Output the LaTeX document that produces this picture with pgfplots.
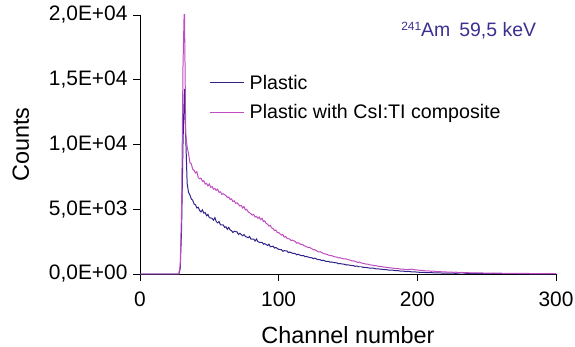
\documentclass[border=0pt]{standalone}
\usepackage{pgfplots}
\pgfplotsset{compat=1.18}
\usepackage{pgfplotstable}
\usepackage{fontspec}
\setmainfont{Liberation Sans}

\definecolor{plasticblue}{HTML}{2E2389}
\definecolor{csimag}{HTML}{C04CC0}
\definecolor{notecol}{HTML}{3B2F90}

% Channel spectra: channel, counts
\pgfplotstableread{
ch cnt
0 0
28 0
29 400
30 3500
31 10000
32 14300
33 10500
34 7000
35 6300
36 6100
37 5800
38 5700
39 5400
40 5350
41 5100
42 5150
43 4900
44 4800
45 4950
46 4700
47 4750
48 4500
49 4600
50 4350
52 4300
53 4150
54 4350
55 4050
56 3950
57 4050
58 3800
60 3800
61 3600
62 3650
63 3450
64 3600
65 3400
66 3350
67 3200
68 3300
70 3250
71 3050
72 3150
74 2950
75 3050
76 2900
78 2800
79 2900
80 2700
82 2700
83 2550
84 2700
85 2500
86 2450
88 2450
89 2300
90 2350
92 2200
93 2300
94 2100
96 2150
97 2000
98 2050
100 1900
102 1880
103 1750
104 1800
106 1780
107 1650
108 1700
110 1600
112 1580
113 1480
114 1530
116 1420
118 1430
119 1330
120 1360
122 1280
124 1250
125 1180
126 1230
128 1120
130 1100
131 1030
132 1070
134 980
136 980
137 910
138 930
140 880
142 860
143 790
144 810
146 770
148 740
149 690
150 710
152 660
154 650
155 590
156 620
158 560
160 560
161 500
162 520
164 490
166 450
168 460
170 400
172 390
174 370
176 340
178 330
180 290
182 300
184 260
186 260
188 220
190 220
192 190
194 200
196 160
198 170
200 140
202 130
204 120
206 115
208 100
210 105
212 90
216 80
220 70
224 65
228 55
232 90
236 45
240 45
245 35
250 30
255 40
260 25
265 20
270 25
275 15
280 20
285 10
290 15
295 10
300 10
}\plastic

\pgfplotstableread{
ch cnt
0 0
28 0
29 700
30 5000
31 16000
32 21000
33 10800
34 9800
35 9300
36 8600
37 8500
38 8100
39 8000
40 7800
41 7900
42 7450
43 7350
44 7400
45 7150
46 7200
47 6950
48 7000
49 6800
50 6950
51 6700
52 6750
53 6550
54 6600
55 6450
56 6550
57 6300
58 6350
59 6150
60 6200
62 6050
63 5900
64 5950
65 5750
66 5800
67 5600
68 5650
69 5450
70 5500
72 5250
73 5300
74 5100
75 5200
76 4950
77 5000
78 4800
80 4650
81 4550
82 4600
83 4400
84 4450
85 4300
86 4400
87 4200
88 4300
89 4050
90 4100
91 3900
92 3850
93 3700
94 3750
95 3550
96 3500
97 3350
98 3400
99 3200
100 3200
102 3000
103 3050
104 2850
105 2900
106 2750
108 2700
109 2580
110 2620
112 2500
113 2380
114 2420
116 2280
117 2300
118 2200
120 2120
121 2050
122 2070
124 1950
125 1860
126 1880
128 1750
129 1700
130 1720
132 1600
133 1560
134 1540
136 1460
137 1420
138 1430
140 1340
142 1300
143 1240
144 1260
146 1200
147 1160
148 1180
150 1110
152 1060
153 1000
154 1020
156 940
157 900
158 920
160 840
162 800
163 760
164 770
166 700
168 680
169 640
170 650
172 590
174 580
176 530
178 510
180 480
182 460
184 420
186 420
188 380
190 370
192 330
194 360
196 370
198 330
200 310
202 280
204 270
206 240
208 250
210 210
212 220
214 180
216 190
218 160
220 170
222 140
224 150
226 130
228 140
230 110
232 120
236 100
240 90
245 85
250 70
255 60
260 60
265 50
270 45
275 40
280 40
285 30
290 35
295 25
300 30
}\composite

\begin{document}
\begin{tikzpicture}
\begin{axis}[
  at={(0,0)}, anchor=south west,
  scale only axis,
  width=416bp, height=259bp,
  xmin=0, xmax=300, ymin=0, ymax=20000,
  axis x line=bottom, axis y line=left,
  axis line style={-, line width=0.8pt},
  xtick={0,100,200,300},
  ytick={0,5000,10000,15000,20000},
  yticklabels={{0,0E+00},{5,0E+03},{1,0E+04},{1,5E+04},{2,0E+04}},
  scaled y ticks=false,
  tick align=outside,
  major tick length=7bp,
  tick style={black, line width=0.8pt},
  tick label style={font=\fontsize{21}{24}\selectfont},
  xticklabel style={yshift=-7bp},
  yticklabel style={xshift=-2bp},
  /pgf/number format/assume math mode=true,
  xlabel={Channel number},
  ylabel={Counts},
  label style={font=\fontsize{23.5}{27}\selectfont},
  xlabel style={yshift=-13bp},
  ylabel style={yshift=13bp},
  legend cell align=left,
  legend style={draw=none, fill=none, at={(0.16,0.785)}, anchor=north west,
    font=\fontsize{19.7}{22}\selectfont, row sep=10bp,
    nodes={inner xsep=5bp}},
  legend image code/.code={\draw[#1] (0bp,0bp) -- (34bp,0bp);},
]
\addplot[plasticblue, line width=1pt] table[x=ch, y=cnt] {\plastic};
\addlegendentry{Plastic}
\addplot[csimag, line width=1pt] table[x=ch, y=cnt] {\composite};
\addlegendentry{Plastic with CsI:TI composite}
\node[text=notecol, font=\fontsize{19.5}{22}\selectfont] at (axis cs:237,18800)
  {{\fontsize{12}{14}\selectfont\raisebox{6bp}{241}}Am\hspace{9bp}59,5 keV};
\end{axis}
\pgfresetboundingbox
\path (-140bp,-73bp) rectangle (435bp,274bp);
\end{tikzpicture}
\end{document}
